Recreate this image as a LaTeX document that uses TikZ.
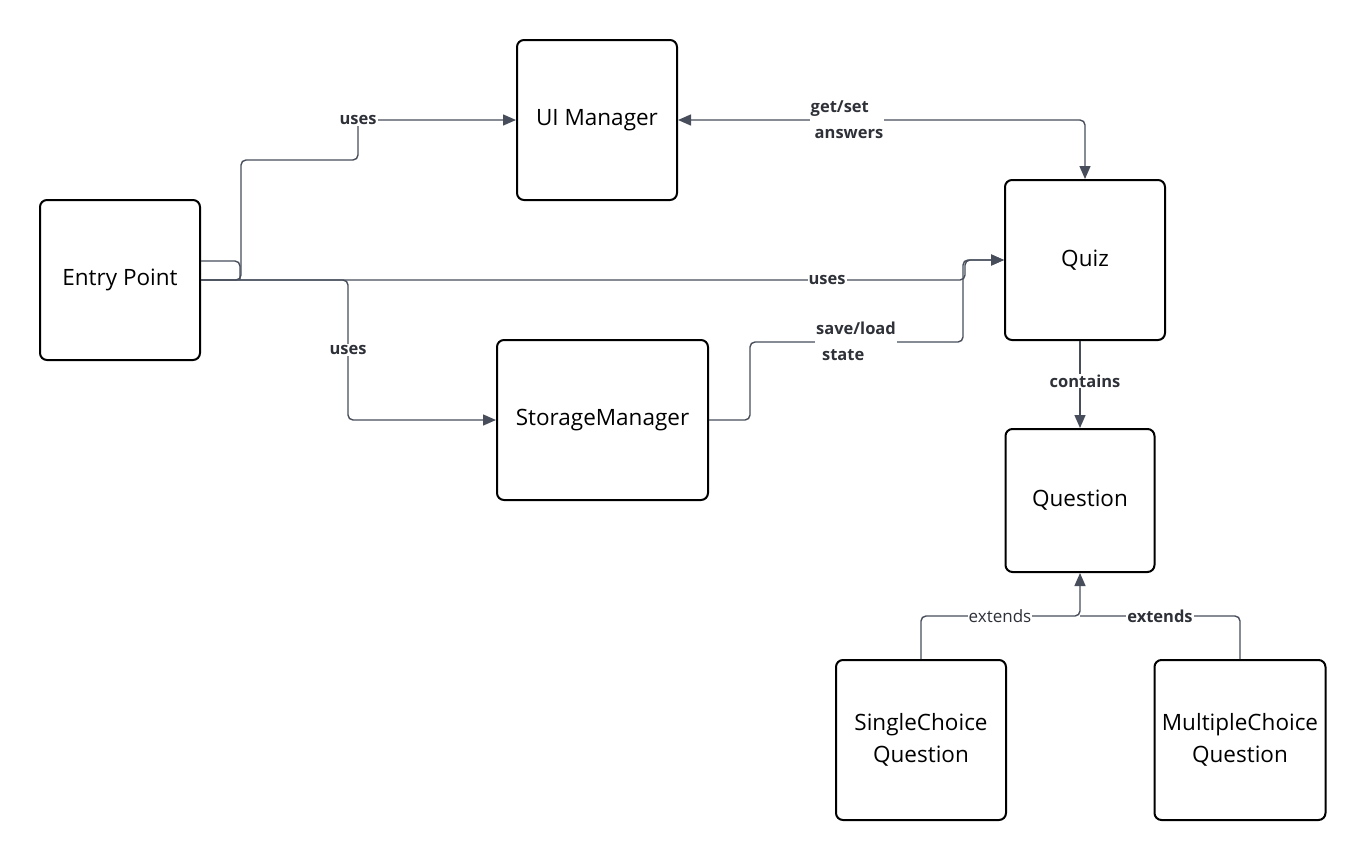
\documentclass[tikz,border=0pt]{standalone}
\usepackage{fontspec}
\setmainfont{Open Sans}
\usetikzlibrary{arrows.meta,calc}
\definecolor{conncol}{HTML}{474D5A}
\definecolor{labcol}{HTML}{2E3138}
\tikzset{
  box/.style={draw=black, line width=2pt, rounded corners=7pt, fill=white,
    minimum width=160pt, minimum height=160pt, align=center,
    font=\fontsize{22.5pt}{32pt}\selectfont, inner sep=2pt},
  conn/.style={draw=conncol, line width=1.4pt, rounded corners=5pt},
  tip/.style={-{Triangle[length=13pt,width=11pt]}},
  lab/.style={fill=white, text=labcol, font=\bfseries\fontsize{16.5pt}{26pt}\selectfont, inner sep=1pt, align=left},
  labr/.style={fill=white, text=labcol, font=\fontsize{17pt}{26pt}\selectfont, inner sep=1pt}
}
\begin{document}
\begin{tikzpicture}[x=1pt,y=-1pt]
\useasboundingbox (0,0) rectangle (1366,860);
\node[box] (ep) at (120,280) {Entry Point};
\node[box] (ui) at (597,120) {UI Manager};
\node[box, minimum width=211pt] (sm) at (602.5,420) {StorageManager};
\node[box] (qz) at (1085,260) {Quiz};
\node[box, minimum width=149pt, minimum height=143pt] (qu) at (1080,500.5) {Question};
\node[box, minimum width=170pt] (sc) at (921,740) {SingleChoice\\Question};
\node[box, minimum width=171pt] (mc) at (1240,740) {MultipleChoice\\Question};

% Entry Point -> UI Manager
\draw[conn,tip] (ep.east) -- (241,280) -- (241,160) -- (358,160) -- (358,120) -- (ui.west);
\node[lab] (l1) at (358,120) {uses};
% Entry Point -> Quiz
\draw[conn] ([yshift=19pt]ep.east) -- (240,261) -- (240,280);
\draw[conn,tip] (ep.east) -- (965,280) -- (965,260) -- (qz.west);
\node[lab] (l2) at (827,280) {uses};
% Entry Point -> StorageManager
\draw[conn,tip] (ep.east) -- (348,280) -- (348,420) -- (sm.west);
\node[lab] (l3) at (348,350) {uses};
% StorageManager -> Quiz
\draw[conn,tip] (sm.east) -- (750,420) -- (750,342) -- (963,342) -- (963,260) -- (qz.west);
\node[lab] (l4) at (856,341) {save/load\\\hspace*{6pt}state};
% UI Manager <-> Quiz
\draw[conn,{Triangle[length=13pt,width=11pt]}-{Triangle[length=13pt,width=11pt]}] (ui.east) -| (qz.north);
\node[lab] (l5) at (847,120) {get/set\\\hspace*{4pt}answers};
% Quiz -> Question
\draw[conn,rounded corners=0pt,tip] (qz.south -| qu.north) -- (qu.north);
\node[lab] (l6) at (1085,381) {contains};
% extends
\draw[conn,tip] (sc.north) |- (1080,616) -- (qu.south);
\draw[conn] (mc.north) |- (1080,616);
\node[labr] (l7) at (1000,616) {extends};
\node[lab] (l8) at (1160,616) {extends};
\end{tikzpicture}
\end{document}
